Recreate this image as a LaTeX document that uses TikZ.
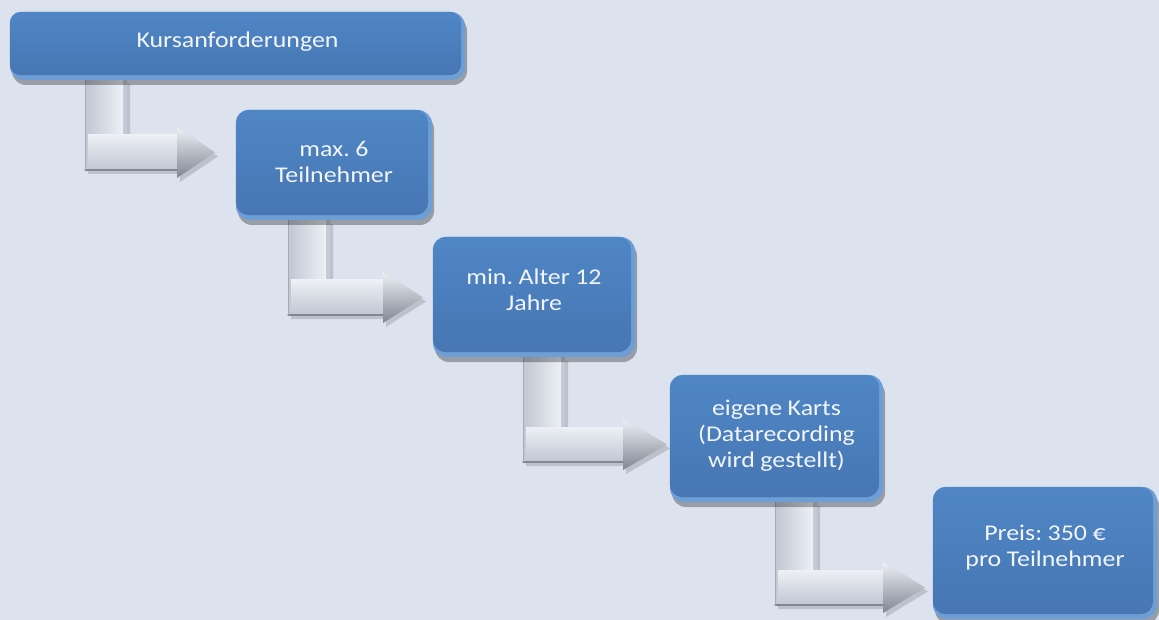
\documentclass[tikz,border=0pt]{standalone}
\usepackage{fontspec}
\setmainfont{Carlito}[FakeStretch=1.15,WordSpace=0.95]
\frenchspacing
\usetikzlibrary{shadows}
\definecolor{bg}{HTML}{DCE3EE}
\definecolor{boxedge}{HTML}{6E9ED6}
\definecolor{boxtop}{HTML}{4F86C6}
\definecolor{boxbot}{HTML}{4776B3}
\definecolor{arrbase}{HTML}{C3CAD6}
\definecolor{arrlight}{HTML}{EDF0F5}
\definecolor{arrdark}{HTML}{7F8794}
\definecolor{txt}{HTML}{F2F5FA}
\newcommand\arrshape[5]{(#1,#2) -- (#1+42,#2) -- (#1+42,#3-35) -- (#4,#3-35) -- (#4,#3-43) -- (#5,#3-17.5) -- (#4,#3+8) -- (#4,#3) -- (#1,#3) -- cycle}
\newcommand\bentarr[5]{%
  \begin{scope}[shift={(3,4)}]
    \fill[black,opacity=.14] \arrshape{#1}{#2}{#3}{#4}{#5};
  \end{scope}
  \fill[arrbase] \arrshape{#1}{#2}{#3}{#4}{#5};
  \shade[left color=arrbase,right color=arrlight] (#1+3,#2) rectangle (#1+38,#3-35);
  \shade[top color=arrlight,bottom color=arrbase] (#1+3,#3-35) rectangle (#4,#3-3);
  \shade[top color=arrlight,bottom color=arrdark] (#4,#3-43) -- (#5,#3-17.5) -- (#4,#3+8) -- cycle;
  \draw[arrdark,line width=1.2pt,line cap=round] (#1,#3) -- (#4,#3);
  \draw[arrdark!70,line width=1pt] (#1,#2) -- (#1,#3);
}
\tikzset{
  boxbase/.style={fill=boxedge,rounded corners=14pt,inner sep=0pt,
    drop shadow={shadow xshift=2pt,shadow yshift=-5pt,opacity=.3,fill=black}},
  boxface/.style={top color=boxtop,bottom color=boxbot,rounded corners=13pt},
  lbl/.style={text=txt,align=center,inner sep=0pt,font=\fontsize{22.5}{26}\selectfont}
}
\begin{document}
\begin{tikzpicture}[x=1pt,y=-1pt]
\fill[bg] (0,0) rectangle (1159,620);
\useasboundingbox (0,0) rectangle (1159,620);

% arrows
\bentarr{85}{80}{170}{177}{215}
\bentarr{288}{220}{315}{383}{423}
\bentarr{523}{357}{462}{623}{667}
\bentarr{775}{502}{605}{883}{925}

% boxes
\node[boxbase,minimum width=455pt,minimum height=68pt] (b1) at (237.5,46) {};
\shade[boxface,rounded corners=11pt] (b1.north west) rectangle ([xshift=-4pt,yshift=5pt]b1.south east);
\node[lbl] (t1) at ([yshift=4pt]b1.center) {Kursanforderungen};

\node[boxbase,minimum width=196pt,minimum height=110pt] (b2) at (334,165) {};
\shade[boxface] (b2.north west) rectangle ([xshift=-4pt,yshift=5pt]b2.south east);
\node[lbl] (t2) at ([yshift=3pt]b2.center) {max. 6\\Teilnehmer};

\node[boxbase,minimum width=202pt,minimum height=120pt] (b3) at (534,297) {};
\shade[boxface] (b3.north west) rectangle ([xshift=-4pt,yshift=5pt]b3.south east);
\node[lbl] (t3) at ([yshift=7pt]b3.center) {min. Alter 12\\Jahre};

\node[boxbase,minimum width=213pt,minimum height=127pt] (b4) at (776.5,438.5) {};
\shade[boxface] (b4.north west) rectangle ([xshift=-4pt,yshift=5pt]b4.south east);
\node[lbl] (t4) at ([yshift=3pt]b4.center) {eigene Karts\\(Datarecording\\wird gestellt)};

\node[boxbase,minimum width=224pt,minimum height=132pt] (b5) at (1045,553) {};
\shade[boxface] (b5.north west) rectangle ([xshift=-4pt,yshift=5pt]b5.south east);
\node[lbl] (t5) at ([yshift=5pt]b5.center) {Preis: 350 €\\pro Teilnehmer};
\end{tikzpicture}
\end{document}
